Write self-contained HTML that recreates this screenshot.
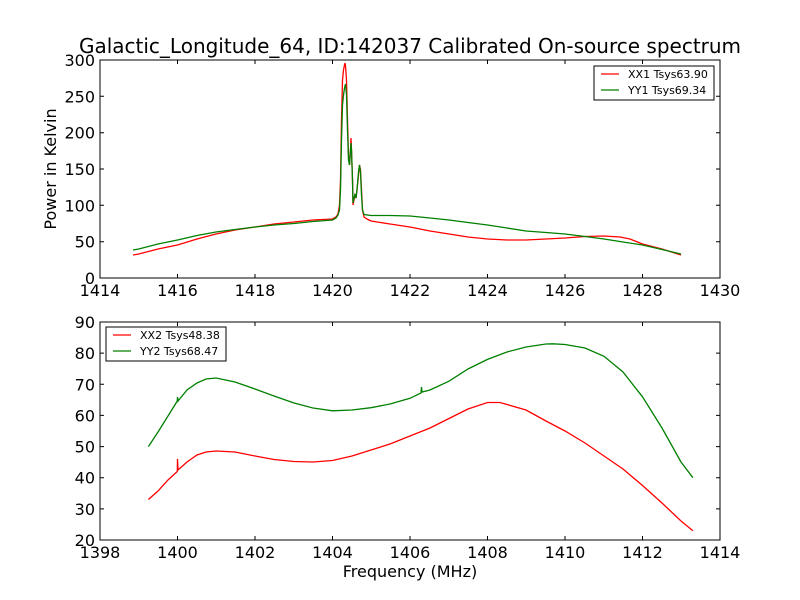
<!DOCTYPE html>
<html><head><meta charset="utf-8"><style>body{margin:0;background:#fff}svg{display:block}text{font-family:"DejaVu Sans","Liberation Sans",sans-serif;fill:#000}</style></head><body>
<svg width="800" height="600" viewBox="0 0 800 600" xmlns="http://www.w3.org/2000/svg">
<rect width="800" height="600" fill="#fff"/>
<text x="410" y="53" font-size="20" text-anchor="middle">Galactic_Longitude_64, ID:142037 Calibrated On-source spectrum</text>
<g fill="none" stroke-width="1.3">
<polyline stroke="#ff0000" points="133,255 138.75,254 158,249 177.5,245 197,239 216,234 235,230 255,227 274,224 294,222 313,220 332.5,219 336,217 338,214 339.5,205 340.5,180 341.5,120 342.5,80 343.5,70 344.5,65 345,63 345.5,66 346.5,80 347.5,120 348.5,155 349.5,165 350.5,150 351,138 351.5,150 352.5,180 353,205 354,200 355,195 356,198 357,190 358.5,175 359.5,165 360.5,170 361.5,190 362.5,210 364,217 367,219 371,221 390,224 410,227 430,231 449,234 468,237 487.5,239 507,240 526,240 546,239 565,238 585,236.5 604,236 620,237 630,239 642.5,244 662,249 681,255"/>
<polyline stroke="#008000" points="133,250 138.75,249 158,244 177.5,240 197,235.5 216,232 235,229.5 255,227 274,225 294,223.5 313,221.5 332.5,220 336,218 338,215 339.5,210 340.5,190 341.5,140 342.5,105 343.5,95 344.5,88 345.5,84 346.5,95 347.5,130 348.5,160 349.5,165 350.5,150 351,143 351.5,150 352.5,180 353,203 354,198 355,194 356,198 357,190 358.5,172 359.5,165 360.5,172 361.5,195 362.5,210 364,214.5 371,215.5 390,215.5 410,216 430,218 449,220 468,222.5 487.5,225 507,228 526,231 546,232.5 565,234 585,236.5 604,239 623,242 642.5,245 662,249.5 681,254"/>
</g>
<rect x="100" y="60" width="620" height="218" fill="none" stroke="#000" stroke-width="1"/>
<g stroke="#000" stroke-width="1">
<path d="M100,278v-4M177.5,278v-4M255,278v-4M332.5,278v-4M410,278v-4M487.5,278v-4M565,278v-4M642.5,278v-4M720,278v-4M100,60v4M177.5,60v4M255,60v4M332.5,60v4M410,60v4M487.5,60v4M565,60v4M642.5,60v4M720,60v4"/>
<path d="M100,278h4M100,241.7h4M100,205.3h4M100,169h4M100,132.7h4M100,96.3h4M100,60h4M720,278h-4M720,241.7h-4M720,205.3h-4M720,169h-4M720,132.7h-4M720,96.3h-4M720,60h-4"/>
</g>
<g font-size="16" text-anchor="middle">
<text x="100" y="296">1414</text><text x="177.5" y="296">1416</text><text x="255" y="296">1418</text><text x="332.5" y="296">1420</text><text x="410" y="296">1422</text><text x="487.5" y="296">1424</text><text x="565" y="296">1426</text><text x="642.5" y="296">1428</text><text x="720" y="296">1430</text>
</g>
<g font-size="16" text-anchor="end">
<text x="95" y="284">0</text><text x="95" y="247.7">50</text><text x="95" y="211.3">100</text><text x="95" y="175">150</text><text x="95" y="138.7">200</text><text x="95" y="102.3">250</text><text x="95" y="66">300</text>
</g>
<text transform="translate(56,169) rotate(-90)" font-size="16" text-anchor="middle">Power in Kelvin</text>
<rect x="594" y="66" width="120" height="34" fill="#fff" stroke="#000"/>
<line x1="601" y1="74" x2="619" y2="74" stroke="#ff0000" stroke-width="1.3"/>
<line x1="601" y1="90" x2="619" y2="90" stroke="#008000" stroke-width="1.3"/>
<text x="628" y="78" font-size="11">XX1 Tsys63.90</text>
<text x="628" y="94" font-size="11">YY1 Tsys69.34</text>
<g fill="none" stroke-width="1.3">
<polyline stroke="#ff0000" points="148.4,499.5 158,491 168,480 177.3,471.5 177.5,459 178,470 187,462 197,455 206,452 216,451 235,452 255,456 274,459.5 294,461.5 313,462 332.5,460.5 352,456 371,450 390,444 410,436 430,428 449,418.5 468,409 487.5,402.5 500,402.5 507,404.5 526,410 546,421 565,431 585,443 604,456 623,469 642.5,485.5 662,503 681,521 692.9,530.7"/>
<polyline stroke="#008000" points="148.4,446.6 158,432 168,416 177.3,401 177.5,397 178,401 187,390 197,383 206,379 216,378 235,382 255,389 274,396 294,403 313,408 332.5,410.8 352,410 371,407.7 390,404 410,398.3 421,393 421.5,387 422,392 430,390 449,381.2 468,369 487.5,359.4 507,352 526,347 546,344 553,343.8 565,344.5 585,348 604,356.3 623,372 642.5,396.8 662,428 681,462 692.9,477.7"/>
</g>
<rect x="100" y="322" width="620" height="218" fill="none" stroke="#000" stroke-width="1"/>
<g stroke="#000" stroke-width="1">
<path d="M100,540v-4M177.5,540v-4M255,540v-4M332.5,540v-4M410,540v-4M487.5,540v-4M565,540v-4M642.5,540v-4M720,540v-4M100,322v4M177.5,322v4M255,322v4M332.5,322v4M410,322v4M487.5,322v4M565,322v4M642.5,322v4M720,322v4"/>
<path d="M100,540h4M100,508.9h4M100,477.7h4M100,446.6h4M100,415.4h4M100,384.3h4M100,353.1h4M100,322h4M720,540h-4M720,508.9h-4M720,477.7h-4M720,446.6h-4M720,415.4h-4M720,384.3h-4M720,353.1h-4M720,322h-4"/>
</g>
<g font-size="16" text-anchor="middle">
<text x="100" y="558">1398</text><text x="177.5" y="558">1400</text><text x="255" y="558">1402</text><text x="332.5" y="558">1404</text><text x="410" y="558">1406</text><text x="487.5" y="558">1408</text><text x="565" y="558">1410</text><text x="642.5" y="558">1412</text><text x="720" y="558">1414</text>
</g>
<g font-size="16" text-anchor="end">
<text x="95" y="546">20</text><text x="95" y="514.9">30</text><text x="95" y="483.7">40</text><text x="95" y="452.6">50</text><text x="95" y="421.4">60</text><text x="95" y="390.3">70</text><text x="95" y="359.1">80</text><text x="95" y="328">90</text>
</g>
<text x="410" y="577" font-size="16" text-anchor="middle">Frequency (MHz)</text>
<rect x="106" y="327" width="120" height="34" fill="#fff" stroke="#000"/>
<line x1="113" y1="335" x2="131" y2="335" stroke="#ff0000" stroke-width="1.3"/>
<line x1="113" y1="351" x2="131" y2="351" stroke="#008000" stroke-width="1.3"/>
<text x="140" y="339" font-size="11">XX2 Tsys48.38</text>
<text x="140" y="355" font-size="11">YY2 Tsys68.47</text>
</svg>
</body></html>
